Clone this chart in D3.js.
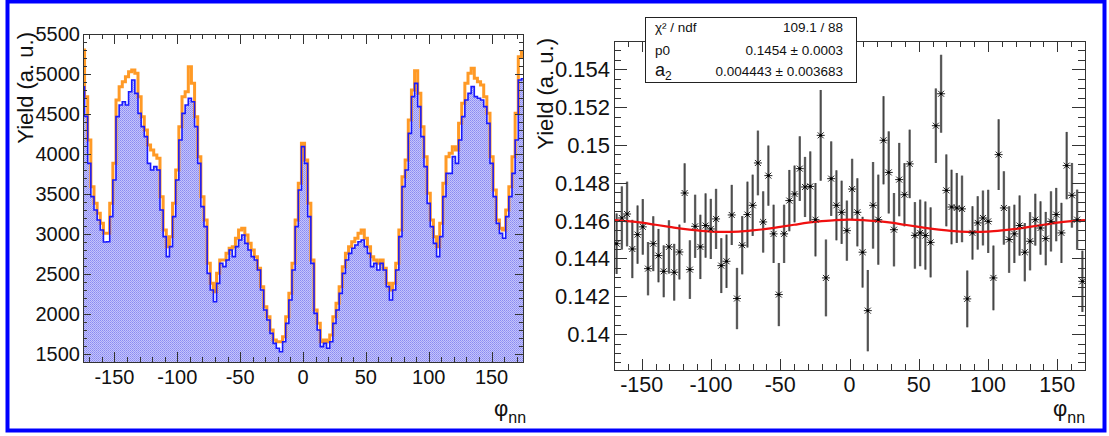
<!DOCTYPE html>
<html><head><meta charset="utf-8">
<script src="https://cdn.jsdelivr.net/npm/d3@7"></script>
<style>
body{margin:0;background:#fff}
svg{display:block}
text{font-family:"Liberation Sans",Arial,Helvetica,sans-serif;fill:#111}
</style>
</head><body>
<svg id="c" width="1109" height="436"></svg>
<script>
// ---------- LEFT PANEL DATA (histograms, bin centers in degrees) ----------
const histPhi = [-175,-172.5,-170,-167.5,-165,-162.5,-160,-157.5,-155,-152.5,-150,-147.5,-145,-142.5,-140,-137.5,-135,-132.5,-130,-127.5,-125,-122.5,-120,-117.5,-115,-112.5,-110,-107.5,-105,-102.5,-100,-97.5,-95,-92.5,-90,-87.5,-85,-82.5,-80,-77.5,-75,-72.5,-70,-67.5,-65,-62.5,-60,-57.5,-55,-52.5,-50,-47.5,-45,-42.5,-40,-37.5,-35,-32.5,-30,-27.5,-25,-22.5,-20,-17.5,-15,-12.5,-10,-7.5,-5,-2.5,0,2.5,5,7.5,10,12.5,15,17.5,20,22.5,25,27.5,30,32.5,35,37.5,40,42.5,45,47.5,50,52.5,55,57.5,60,62.5,65,67.5,70,72.5,75,77.5,80,82.5,85,87.5,90,92.5,95,97.5,100,102.5,105,107.5,110,112.5,115,117.5,120,122.5,125,127.5,130,132.5,135,137.5,140,142.5,145,147.5,150,152.5,155,157.5,160,162.5,165,167.5,170,172.5,175];
const blueYield = [4840,4470,3883,3467,3300,3175,3050,2900,2904,3217,3675,4467,4612,4654,4612,4779,4925,4758,4508,4342,4217,3883,3800,3842,3800,3300,2967,2717,2842,3217,3675,4175,4508,4612,4696,4654,4342,3883,3342,3092,2508,2300,2154,2383,2633,2592,2675,2800,2717,2842,2925,2988,2883,2800,2717,2675,2550,2300,2050,1925,1758,1633,1571,1529,1654,1883,2175,2550,3092,3550,4092,3883,3217,2633,2008,1800,1592,1633,1571,1654,1883,2050,2258,2508,2675,2758,2821,2862,2904,2925,2842,2758,2592,2633,2550,2633,2550,2342,2175,2300,2550,2967,3592,3800,4258,4717,4883,4592,4217,3842,3383,3092,2883,2717,2967,3467,3758,3758,3967,3883,4175,4467,4675,4758,4842,4717,4696,4675,4592,4383,3883,3467,3133,3008,2946,3217,3467,3758,4175,4925,4940];
const orangeYield = [5300,4717,4175,3592,3383,3258,3133,3008,3008,3383,3883,4675,4842,4904,4967,5029,5050,5008,4717,4467,4300,4112,4050,3987,3946,3467,3050,2842,2967,3383,3800,4342,4717,4779,5090,4883,4467,3967,3467,3175,2633,2383,2279,2508,2675,2675,2758,2821,2842,2946,3050,3071,2988,2883,2800,2717,2571,2342,2092,1967,1800,1675,1654,1654,1717,1967,2258,2633,3175,3633,4133,3925,3383,2675,2050,1883,1654,1675,1654,1738,1967,2133,2342,2592,2758,2842,2904,2946,3008,3050,2946,2842,2717,2675,2633,2675,2571,2383,2300,2383,2633,3050,3717,3925,4425,4800,5040,4758,4342,3967,3508,3175,2967,2842,3133,3633,3967,4008,4092,4050,4383,4633,4883,5008,5071,4946,4904,4862,4717,4508,3967,3550,3175,3071,3050,3300,3592,3967,4508,5217,5270];
const histBinWidth = 2.5;

// ---------- RIGHT PANEL DATA (ratio points, 90 bins) ----------
const ratioPhi = [-168.11,-164.33,-160.56,-156.78,-153.00,-149.22,-145.44,-141.67,-137.89,-134.11,-130.33,-126.56,-122.78,-119.00,-115.22,-111.44,-107.67,-103.89,-100.11,-96.33,-92.56,-88.78,-85.00,-81.22,-77.44,-73.67,-69.89,-66.11,-62.33,-58.56,-54.78,-51.00,-47.22,-43.44,-39.67,-35.89,-32.11,-28.33,-24.56,-20.78,-17.00,-13.22,-9.44,-5.67,-1.89,1.89,5.67,9.44,13.22,17.00,20.78,24.56,28.33,32.11,35.89,39.67,43.44,47.22,51.00,54.78,58.56,62.33,66.11,69.89,73.67,77.44,81.22,85.00,88.78,92.56,96.33,100.11,103.89,107.67,111.44,115.22,119.00,122.78,126.56,130.33,134.11,137.89,141.67,145.44,149.22,153.00,156.78,160.56,164.33,168.11];
const ratioVal = [0.14478,0.14614,0.14635,0.14450,0.14526,0.14567,0.14346,0.14478,0.14415,0.14332,0.14461,0.14327,0.14434,0.14746,0.14341,0.14570,0.14461,0.14574,0.14556,0.14609,0.14362,0.14385,0.14630,0.14188,0.14470,0.14632,0.14681,0.14905,0.14593,0.14838,0.14530,0.14209,0.14530,0.14706,0.14741,0.14875,0.14778,0.14781,0.14605,0.15051,0.14297,0.14822,0.14681,0.14644,0.14547,0.14767,0.14644,0.14433,0.14124,0.14681,0.14605,0.15025,0.14855,0.14552,0.14817,0.14737,0.14900,0.14522,0.14535,0.14521,0.14485,0.15102,0.15271,0.14760,0.14672,0.14667,0.14662,0.14186,0.14535,0.14588,0.14614,0.14596,0.14297,0.14949,0.14667,0.14500,0.14530,0.14574,0.14433,0.14491,0.14605,0.14561,0.14505,0.14596,0.14632,0.14535,0.14891,0.14734,0.14605,0.14279];
const ratioErr = [0.00160,0.00167,0.00171,0.00154,0.00154,0.00147,0.00141,0.00145,0.00141,0.00137,0.00141,0.00150,0.00145,0.00157,0.00155,0.00167,0.00170,0.00170,0.00159,0.00159,0.00145,0.00141,0.00159,0.00162,0.00154,0.00174,0.00162,0.00171,0.00162,0.00159,0.00154,0.00167,0.00154,0.00162,0.00150,0.00171,0.00159,0.00185,0.00194,0.00240,0.00203,0.00197,0.00185,0.00167,0.00159,0.00160,0.00180,0.00187,0.00215,0.00229,0.00238,0.00233,0.00217,0.00194,0.00194,0.00167,0.00181,0.00176,0.00176,0.00180,0.00185,0.00197,0.00206,0.00190,0.00197,0.00185,0.00176,0.00150,0.00141,0.00141,0.00145,0.00167,0.00171,0.00187,0.00194,0.00176,0.00154,0.00159,0.00154,0.00154,0.00137,0.00141,0.00141,0.00159,0.00141,0.00159,0.00178,0.00171,0.00159,0.00162];

// fit curve values
const fitPhi = [-170,-160,-150,-140,-130,-120,-110,-100,-90,-80,-70,-60,-50,-40,-30,-20,-10,0,10,20,30,40,50,60,70,80,90,100,110,120,130,140,150,160,170];
const fitVal = [0.14603,0.14597,0.14589,0.14578,0.14567,0.14556,0.14548,0.14542,0.14540,0.14542,0.14548,0.14556,0.14567,0.14578,0.14589,0.14597,0.14603,0.14605,0.14603,0.14597,0.14589,0.14578,0.14567,0.14556,0.14548,0.14542,0.14540,0.14542,0.14548,0.14556,0.14567,0.14578,0.14589,0.14597,0.14603];

// stats box text
const statLabels = ["χ² / ndf","p0","a"];
const statValues = ["109.1 / 88","0.1454 ± 0.0003","0.004443 ± 0.003683"];

// ticks
const leftYMajor = [1500,2000,2500,3000,3500,4000,4500,5000,5500];
const leftYMinor = d3.range(1400,5501,100);
const xMajor = [-150,-100,-50,0,50,100,150];
const xMinor = d3.range(-170,171,10);
const rightYMajor = [0.14,0.142,0.144,0.146,0.148,0.15,0.152,0.154];
const rightYMinor = d3.range(0,35).map(i=>0.1385+i*0.0005);

const svg = d3.select("#c");
svg.append("rect").attr("width",1109).attr("height",436).attr("fill","#fff");

// ---------- pattern for histogram fill ----------
const defs = svg.append("defs");
const pat = defs.append("pattern").attr("id","hatch").attr("patternUnits","userSpaceOnUse")
  .attr("width",2).attr("height",2);
pat.append("rect").attr("width",2).attr("height",2).attr("fill","#c4c4fb");
pat.append("rect").attr("width",1).attr("height",1).attr("fill","#8a8af2");
pat.append("rect").attr("x",1).attr("y",1).attr("width",1).attr("height",1).attr("fill","#9a9af5");

// ---------- helpers ----------
function drawTicks(g, scale, vals, orient, len, pos) {
  vals.forEach(v => {
    const p = Math.round(scale(v)) + 0.5;
    if (orient === 'left') g.append("line").attr("x1",pos).attr("x2",pos+len).attr("y1",p).attr("y2",p);
    if (orient === 'right') g.append("line").attr("x1",pos).attr("x2",pos-len).attr("y1",p).attr("y2",p);
    if (orient === 'bottom') g.append("line").attr("y1",pos).attr("y2",pos-len).attr("x1",p).attr("x2",p);
    if (orient === 'top') g.append("line").attr("y1",pos).attr("y2",pos+len).attr("x1",p).attr("x2",p);
  });
}

// =================== LEFT PANEL ===================
const L = {x0:83, x1:523, y0:34, y1:362};
const xL = d3.scaleLinear().domain([-175,175]).range([L.x0,L.x1]);
const yL = d3.scaleLinear().domain([1400,5500]).range([L.y1,L.y0]);

defs.append("clipPath").attr("id","clipL").append("rect")
  .attr("x",L.x0).attr("y",L.y0).attr("width",L.x1-L.x0).attr("height",L.y1-L.y0);

function stepPoints(vals){
  const pts=[];
  histPhi.forEach((c,i)=>{
    pts.push([c-histBinWidth/2, vals[i]]);
    pts.push([c+histBinWidth/2, vals[i]]);
  });
  return pts;
}
const gL = svg.append("g").attr("clip-path","url(#clipL)");
const bluePts = stepPoints(blueYield);
const orangePts = stepPoints(orangeYield);
gL.append("path")
  .attr("d", d3.area().x(d=>xL(d[0])).y0(yL(1400)).y1(d=>yL(d[1]))(bluePts))
  .attr("fill","url(#hatch)");
gL.append("path")
  .attr("d", d3.line().x(d=>xL(d[0])).y(d=>yL(d[1]))(orangePts))
  .attr("fill","none").attr("stroke","#ff9a26").attr("stroke-width",3).attr("stroke-linejoin","miter");
gL.append("path")
  .attr("d", d3.line().x(d=>xL(d[0])).y(d=>yL(d[1]))(bluePts))
  .attr("fill","none").attr("stroke","#1a1aff").attr("stroke-width",1.6);

// frame & ticks
const tL = svg.append("g").attr("stroke","#333").attr("stroke-width",1);
tL.append("rect").attr("x",L.x0+0.5).attr("y",L.y0+0.5).attr("width",L.x1-L.x0).attr("height",L.y1-L.y0).attr("fill","none");
drawTicks(tL,yL,leftYMajor,'left',8,L.x0);
drawTicks(tL,yL,leftYMinor,'left',4,L.x0);
drawTicks(tL,yL,leftYMajor,'right',8,L.x1);
drawTicks(tL,yL,leftYMinor,'right',4,L.x1);
drawTicks(tL,xL,xMajor,'bottom',10,L.y1);
drawTicks(tL,xL,xMinor,'bottom',5,L.y1);
drawTicks(tL,xL,xMajor,'top',10,L.y0);
drawTicks(tL,xL,xMinor,'top',5,L.y0);

// labels
svg.append("g").selectAll("text").data(leftYMajor).join("text")
  .attr("x",L.x0-3).attr("y",d=>yL(d)).attr("dy","0.36em")
  .attr("text-anchor","end").attr("font-size",20).text(d=>d);
svg.append("g").selectAll("text").data(xMajor).join("text")
  .attr("x",d=>xL(d)).attr("y",L.y1+22)
  .attr("text-anchor","middle").attr("font-size",20).text(d=>d);
svg.append("text").attr("transform",`translate(33,${L.y0-2}) rotate(-90)`)
  .attr("text-anchor","end").attr("font-size",22).text("Yield (a. u.)");
const tl = svg.append("text").attr("x",494).attr("y",416).attr("font-size",22);
tl.append("tspan").text("φ");
tl.append("tspan").attr("font-size",16).attr("dy",7).text("nn");

// =================== RIGHT PANEL ===================
const R = {x0:614, x1:1085, y0:41, y1:370};
const xR = d3.scaleLinear().domain([-170,170]).range([R.x0,R.x1]);
const yR = d3.scaleLinear().domain([0.1381,0.1555]).range([R.y1,R.y0]);
defs.append("clipPath").attr("id","clipR").append("rect")
  .attr("x",R.x0).attr("y",R.y0).attr("width",R.x1-R.x0).attr("height",R.y1-R.y0);
const gR = svg.append("g").attr("clip-path","url(#clipR)");

// error bars
gR.append("g").selectAll("line").data(ratioPhi).join("line")
  .attr("x1",d=>xR(d)).attr("x2",d=>xR(d))
  .attr("y1",(d,i)=>yR(ratioVal[i]+ratioErr[i]))
  .attr("y2",(d,i)=>yR(ratioVal[i]-ratioErr[i]))
  .attr("stroke","#777").attr("stroke-width",2.4);
gR.append("g").selectAll("line").data(ratioPhi).join("line")
  .attr("x1",d=>xR(d)).attr("x2",d=>xR(d))
  .attr("y1",(d,i)=>yR(ratioVal[i]+ratioErr[i]))
  .attr("y2",(d,i)=>yR(ratioVal[i]-ratioErr[i]))
  .attr("stroke","#333").attr("stroke-width",0.8);

// fit curve
gR.append("path")
  .attr("d", d3.line().x((d,i)=>xR(d)).y((d,i)=>yR(fitVal[i])).curve(d3.curveMonotoneX)(fitPhi))
  .attr("fill","none").attr("stroke","#f01010").attr("stroke-width",2.2);

// markers (asterisk)
const star = "M-4,0H4M-3,-3L3,3M-3,3L3,-3";
gR.append("g").selectAll("path").data(ratioPhi).join("path")
  .attr("transform",(d,i)=>`translate(${xR(d)},${yR(ratioVal[i])})`)
  .attr("d",star).attr("fill","none").attr("stroke","#222").attr("stroke-width",1);
gR.append("g").selectAll("circle").data(ratioPhi).join("circle")
  .attr("cx",d=>xR(d)).attr("cy",(d,i)=>yR(ratioVal[i])).attr("r",1.3).attr("fill","#000");

// frame & ticks
const tR = svg.append("g").attr("stroke","#333").attr("stroke-width",1);
tR.append("rect").attr("x",R.x0+0.5).attr("y",R.y0+0.5).attr("width",R.x1-R.x0).attr("height",R.y1-R.y0).attr("fill","none");
drawTicks(tR,yR,rightYMajor,'left',13,R.x0);
drawTicks(tR,yR,rightYMinor,'left',7,R.x0);
drawTicks(tR,yR,rightYMajor,'right',13,R.x1);
drawTicks(tR,yR,rightYMinor,'right',7,R.x1);
drawTicks(tR,xR,xMajor,'bottom',11,R.y1);
drawTicks(tR,xR,xMinor,'bottom',6,R.y1);
drawTicks(tR,xR,xMajor,'top',11,R.y0);
drawTicks(tR,xR,xMinor,'top',6,R.y0);

svg.append("g").selectAll("text").data(rightYMajor).join("text")
  .attr("x",R.x0-4).attr("y",d=>yR(d)).attr("dy","0.36em")
  .attr("text-anchor","end").attr("font-size",22).text(d=>String(d));
svg.append("g").selectAll("text").data(xMajor).join("text")
  .attr("x",d=>xR(d)).attr("y",R.y1+22)
  .attr("text-anchor","middle").attr("font-size",21.5).text(d=>d);
svg.append("text").attr("transform",`translate(553,38) rotate(-90)`)
  .attr("text-anchor","end").attr("font-size",22).text("Yield (a. u.)");
const tr = svg.append("text").attr("x",1053).attr("y",416).attr("font-size",22);
tr.append("tspan").text("φ");
tr.append("tspan").attr("font-size",16).attr("dy",7).text("nn");

// stats box
const sb = svg.append("g");
sb.append("rect").attr("x",645.5).attr("y",17.5).attr("width",211).attr("height",65)
  .attr("fill","#fff").attr("stroke","#222").attr("stroke-width",1);
const rowsY = [32,55,76];
statLabels.forEach((t,i)=>{
  const tx = sb.append("text").attr("x",655).attr("y",rowsY[i]).attr("font-size", i===2?18:13.5);
  tx.append("tspan").text(t);
  if(i===2) tx.append("tspan").attr("font-size",12).attr("dy",4).text("2");
});
statValues.forEach((t,i)=>{
  sb.append("text").attr("x",843).attr("y",rowsY[i]).attr("text-anchor","end").attr("font-size",13.5).text(t);
});

// outer blue border
svg.append("rect").attr("x",7.5).attr("y",1.5).attr("width",1097).attr("height",429)
  .attr("fill","none").attr("stroke","#0000ff").attr("stroke-width",4);
</script>
</body></html>
